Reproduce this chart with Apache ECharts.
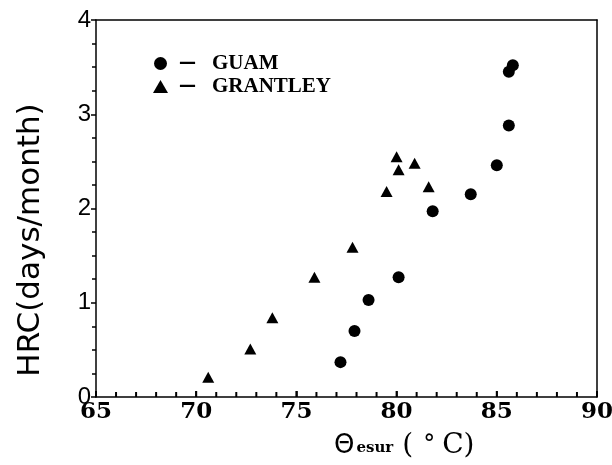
<!DOCTYPE html>
<html>
<head>
<meta charset="utf-8">
<script src="https://cdn.jsdelivr.net/npm/echarts@6/dist/echarts.min.js"></script>
<style>
  html, body { margin: 0; padding: 0; background: #fff; }
  #chart { width: 612px; height: 465px; }
</style>
</head>
<body>
<div id="chart"></div>
<script>
// values
const guamX = [77.2, 77.9, 78.6, 80.1, 81.8, 83.7, 85.0, 85.6, 85.6, 85.8];
const guamY = [0.37, 0.70, 1.03, 1.27, 1.97, 2.15, 2.46, 2.88, 3.45, 3.52];
const grantleyX = [70.6, 72.7, 73.8, 75.9, 77.8, 79.5, 80.0, 80.1, 80.9, 81.6];
const grantleyY = [0.21, 0.51, 0.84, 1.27, 1.59, 2.18, 2.55, 2.41, 2.48, 2.23];
const seriesNames = ['GUAM', 'GRANTLEY'];
const xTicks = [65, 70, 75, 80, 85, 90];
const xMinorTicks = [66, 67, 68, 69, 71, 72, 73, 74, 76, 77, 78, 79, 81, 82, 83, 84, 86, 87, 88, 89];
const yTicks = [0, 1, 2, 3, 4];

const pairs = (xs, ys) => xs.map((x, i) => [x, ys[i]]);

// upward tick marks on the bottom axis: thin rect symbols sitting on y = 0
const tickMarks = (values, len) => ({
  type: 'scatter',
  silent: true,
  clip: false,
  z: 5,
  symbol: 'rect',
  symbolSize: [2, len],
  symbolOffset: [0, -len / 2],
  itemStyle: { color: '#000', opacity: 1 },
  data: values.map(v => [v, yTicks[0]])
});

const chart = echarts.init(document.getElementById('chart'));
chart.setOption({
  backgroundColor: '#fff',
  animation: false,
  grid: {
    left: 96, right: 15, top: 20, bottom: 68,
    outerBoundsMode: 'none',
    containLabel: false
  },
  legend: {
    orient: 'vertical',
    left: 148, top: 48,
    itemWidth: 15, itemHeight: 13,
    itemGap: 2,
    data: [
      { name: seriesNames[0], icon: 'circle' },
      { name: seriesNames[1], icon: 'triangle' }
    ],
    formatter: (name) => '{d|—}{n|' + name + '}',
    textStyle: {
      color: '#000',
      rich: {
        d: { width: 33, padding: [0, 0, 0, 6], fontSize: 17, fontFamily: 'DejaVu Sans', fontWeight: 'bold', color: '#000' },
        n: { fontSize: 21, fontFamily: 'Liberation Serif', fontWeight: 'bold', color: '#000', lineHeight: 22 }
      }
    }
  },
  xAxis: [
    {
      type: 'value',
      position: 'bottom',
      min: xTicks[0], max: xTicks[xTicks.length - 1], interval: 5,
      axisLine: { show: true, onZero: false, lineStyle: { color: '#000', width: 1.5 } },
      axisTick: { show: true, inside: true, length: 6, lineStyle: { color: '#000', width: 1.5 } },
      splitLine: { show: false },
      axisLabel: {
        show: true,
        margin: 4,
        color: '#000',
        fontSize: 23,
        fontWeight: 'bold',
        fontFamily: 'DejaVu Serif'
      }
    },
    {
      // plain frame line along the top
      type: 'value',
      position: 'top',
      min: xTicks[0], max: xTicks[xTicks.length - 1],
      axisLine: { show: true, onZero: false, lineStyle: { color: '#000', width: 1.5 } },
      axisTick: { show: false },
      axisLabel: { show: false },
      splitLine: { show: false }
    }
  ],
  yAxis: [
    {
      type: 'value',
      position: 'left',
      min: yTicks[0], max: yTicks[yTicks.length - 1], interval: 1,
      axisLine: { show: true, onZero: false, lineStyle: { color: '#000', width: 1.5 } },
      axisTick: { show: true, inside: false, length: 5, lineStyle: { color: '#000', width: 1.5 } },
      minorTick: { show: true, splitNumber: 4, length: 4, lineStyle: { color: '#000', width: 1.5 } },
      splitLine: { show: false },
      axisLabel: {
        margin: 5,
        color: '#000',
        fontSize: 24,
        fontFamily: 'Liberation Sans'
      }
    },
    {
      // plain frame line along the right
      type: 'value',
      position: 'right',
      min: yTicks[0], max: yTicks[yTicks.length - 1],
      axisLine: { show: true, onZero: false, lineStyle: { color: '#000', width: 1.5 } },
      axisTick: { show: false },
      axisLabel: { show: false },
      splitLine: { show: false }
    }
  ],
  graphic: [
    {
      type: 'text',
      x: 31, y: 240,
      rotation: Math.PI / 2,
      style: {
        text: 'HRC(days/month)',
        fill: '#000',
        font: '31px "DejaVu Sans"',
        align: 'center',
        verticalAlign: 'middle'
      }
    },
    {
      type: 'text',
      x: 334, y: 446,
      style: {
        text: '{t|Θ}{s|esur}{g|}{p|(}{o|°}{p|C)}',
        align: 'left',
        verticalAlign: 'middle',
        rich: {
          t: { fontSize: 26, fontFamily: 'DejaVu Sans', fill: '#000', padding: [0, 2, 0, 0] },
          s: { fontSize: 15, fontFamily: 'DejaVu Serif', fontWeight: 'bold', fill: '#000', padding: [5, 0, 0, 0] },
          g: { width: 9 },
          p: { fontSize: 28, fontFamily: 'DejaVu Serif', fill: '#000' },
          o: { fontSize: 24, fontFamily: 'DejaVu Serif', fill: '#000', padding: [0, 7, 0, 10] }
        }
      }
    }
  ],
  series: [
    {
      name: seriesNames[0],
      type: 'scatter',
      symbol: 'circle',
      symbolSize: 12,
      itemStyle: { color: '#000', opacity: 1 },
      data: pairs(guamX, guamY)
    },
    {
      name: seriesNames[1],
      type: 'scatter',
      symbol: 'triangle',
      symbolSize: [12, 11],
      itemStyle: { color: '#000', opacity: 1 },
      data: pairs(grantleyX, grantleyY)
    },
    tickMarks(xTicks, 6),
    tickMarks(xMinorTicks, 5)
  ]
});
</script>
</body>
</html>
